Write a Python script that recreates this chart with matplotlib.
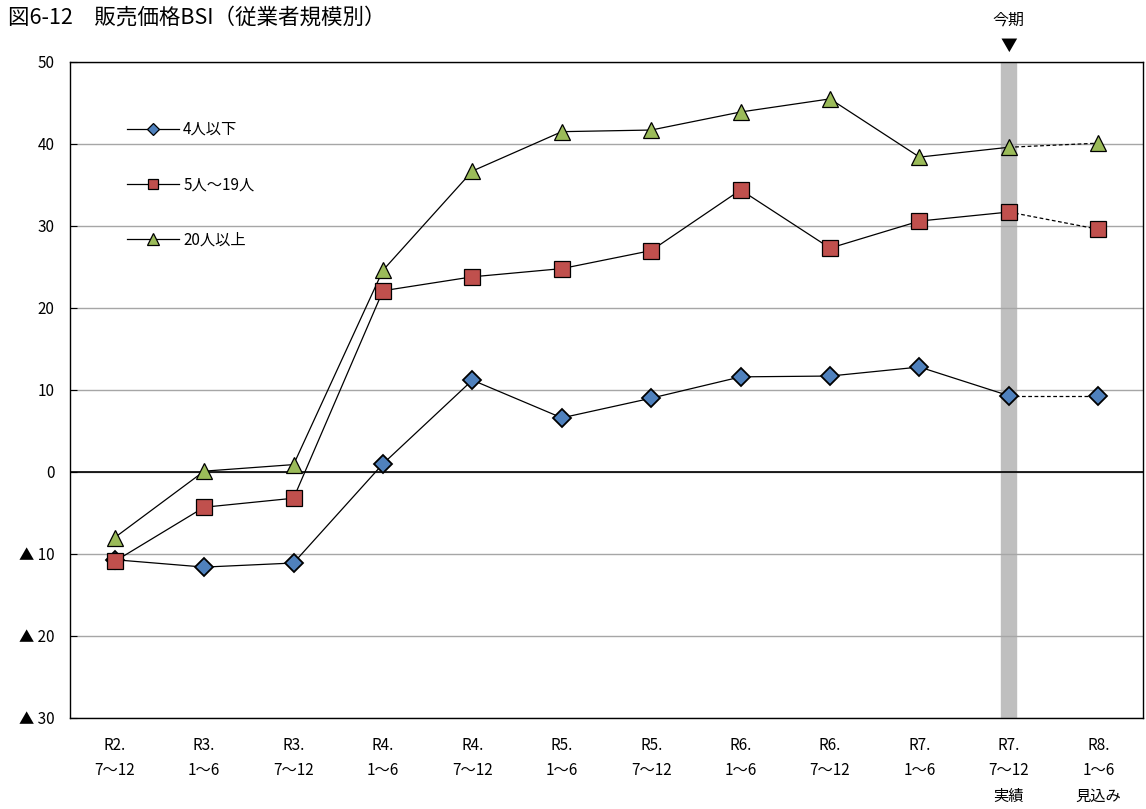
"""販売価格BSI（従業者規模別）の折れ線グラフ."""

import matplotlib.pyplot as plt

plt.rcParams["font.family"] = ["Noto Sans CJK JP", "DejaVu Sans"]

CATEGORIES = [
    "R2.\n7〜12", "R3.\n1〜6", "R3.\n7〜12", "R4.\n1〜6", "R4.\n7〜12", "R5.\n1〜6",
    "R5.\n7〜12", "R6.\n1〜6", "R6.\n7〜12", "R7.\n1〜6", "R7.\n7〜12\n実績", "R8.\n1〜6\n見込み",
]
SMALL = [-10.7, -11.6, -11.1, 1.0, 11.2, 6.6, 9.0, 11.6, 11.7, 12.8, 9.3, 9.3]
MEDIUM = [-10.9, -4.3, -3.2, 22.1, 23.8, 24.8, 27.0, 34.4, 27.3, 30.6, 31.7, 29.6]
LARGE = [-8.0, 0.1, 0.9, 24.6, 36.7, 41.5, 41.7, 43.9, 45.5, 38.4, 39.6, 40.1]

SERIES = [
    ("4人以下", SMALL, "D", "#4F81BD", 9),
    ("5人〜19人", MEDIUM, "s", "#C0504D", 11),
    ("20人以上", LARGE, "^", "#9BBB59", 12),
]
Y_TICKS = [50, 40, 30, 20, 10, 0, -10, -20, -30]
Y_LABELS = ["50", "40", "30", "20", "10", "0", "▲ 10", "▲ 20", "▲ 30"]
CURRENT = 10  # 今期の位置

fig = plt.figure(figsize=(11.46, 8.09), dpi=100)
ax = fig.add_axes([0.0611, 0.1125, 0.9363, 0.8109])

xs = list(range(len(CATEGORIES)))

ax.axvspan(CURRENT - 0.085, CURRENT + 0.085, color="#BFBFBF", zorder=1)

for label, values, marker, color, size in SERIES:
    ax.plot(xs[:CURRENT + 1], values[:CURRENT + 1], color="black", lw=0.9, zorder=3)
    ax.plot(xs[CURRENT:], values[CURRENT:], color="black", lw=0.9, ls=(0, (3, 2)), zorder=3)
    ax.plot(xs, values, ls="none", marker=marker, ms=size, mfc=color, mec="black",
            mew=1.3 if marker == "D" else 0.9, zorder=4)
    # 凡例用
    ax.plot([], [], color="black", lw=0.9, marker=marker, ms=size * 0.7,
            mfc=color, mec="black", mew=0.9, label=label)

ax.set_xlim(-0.5, len(CATEGORIES) - 0.5)
ax.set_ylim(-30, 50)
ax.set_yticks(Y_TICKS)
ax.set_yticklabels(Y_LABELS, fontsize=11)
ax.set_xticks(xs)
ax.set_xticklabels(CATEGORIES, fontsize=11, linespacing=1.62)
ax.tick_params(axis="x", length=0, pad=14)
ax.tick_params(axis="y", direction="in", length=5, pad=11)

ax.grid(axis="y", color="#A6A6A6", lw=1.0, zorder=0)
ax.axhline(0, color="black", lw=1.2, zorder=2)
for spine in ax.spines.values():
    spine.set_linewidth(1.0)
    spine.set_color("black")

ax.legend(loc="upper left", bbox_to_anchor=(0.04, 0.931), frameon=False,
          fontsize=11, labelspacing=2.5, handlelength=3.4, handletextpad=0.3)

fig.text(0.007, 0.978, "図6-12　販売価格BSI（従業者規模別）", fontsize=15.5, va="center")
ax.annotate("今期", xy=(CURRENT, 50), xytext=(0, 30), textcoords="offset points",
            ha="center", va="center", fontsize=11.5, annotation_clip=False)
ax.annotate("▼", xy=(CURRENT, 50), xytext=(0, 11.5), textcoords="offset points",
            ha="center", va="center", fontsize=12, annotation_clip=False)

fig.savefig("out.png", dpi=100)
